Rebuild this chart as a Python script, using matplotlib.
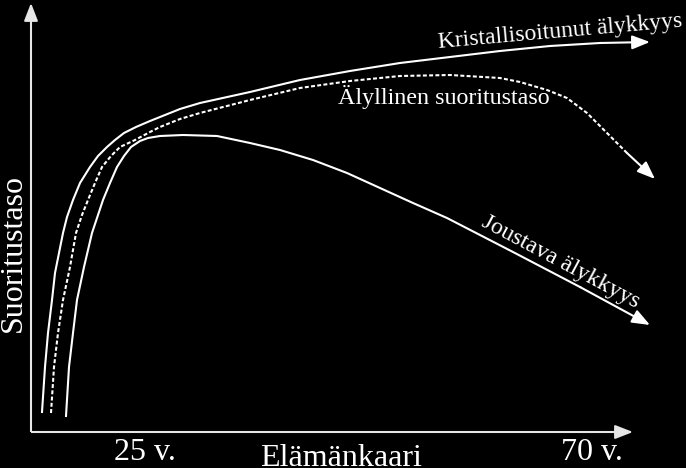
import matplotlib
matplotlib.use("Agg")
import matplotlib.pyplot as plt

# Data (pixel coordinates of the reference)
cryst_x = [42, 45, 48, 52, 55, 58, 63, 67, 73, 80, 90, 98, 107, 115, 124, 136, 150, 160, 180, 200, 250, 300, 350, 400, 450, 500, 550, 600, 650]
cryst_y = [412, 367, 333, 300, 273, 258, 233, 217, 200, 183, 167, 156, 147, 140, 133, 127, 121, 117, 109, 103, 92, 80, 71, 63, 57, 51, 46, 43, 42]

perf_x = [51, 54, 58, 63, 70, 76, 82, 88, 95, 102, 111, 120, 135, 150, 160, 180, 200, 250, 300, 350, 400, 450, 500, 520, 547, 567, 587, 607, 627, 655]
perf_y = [413, 367, 333, 300, 267, 233, 215, 200, 183, 167, 156, 147, 140, 132, 127, 119, 113, 100, 88, 81, 76, 75, 78, 82, 90, 98, 113, 133, 153, 179]

fluid_x = [66, 69, 73, 77, 84, 92, 103, 110, 117, 124, 131, 140, 148, 160, 183, 217, 250, 280, 313, 347, 380, 413, 447, 480, 513, 580, 650]
fluid_y = [416, 367, 333, 300, 267, 233, 200, 183, 167, 156, 147, 141, 138, 136, 135, 136, 143, 150, 160, 173, 188, 203, 218, 235, 252, 287, 325]

axis_origin = (31, 432)
axis_x_end = 633
axis_y_end = 3

x_tick_labels = ["25 v.", "70 v."]
x_tick_pos = [145, 592]

plt.rcParams['font.family'] = ['Liberation Serif', 'DejaVu Serif']

fig = plt.figure(figsize=(6.86, 4.68), dpi=100, facecolor='black')
ax = fig.add_axes([0, 0, 1, 1])
ax.set_facecolor('black')
ax.set_xlim(0, 686)
ax.set_ylim(468, 0)
ax.axis('off')

lw = 1.5
c = 'white'
axc = '#e6e6e6'
head = '-|>,head_length=0.9,head_width=0.35'


def arrow_head(xs, ys, color=c):
    ax.annotate('', xy=(xs[-1], ys[-1]), xytext=(xs[-2], ys[-2]),
                arrowprops=dict(arrowstyle=head, color=color, lw=lw,
                                shrinkA=0, shrinkB=0, mutation_scale=12))


# axes lines
ax.plot([axis_origin[0], axis_x_end - 8], [axis_origin[1], axis_origin[1]],
        color=axc, lw=1.5, solid_capstyle='butt')
ax.plot([axis_origin[0], axis_origin[0]], [axis_origin[1], axis_y_end + 8],
        color=axc, lw=1.5, solid_capstyle='butt')
arrow_head([axis_x_end - 10, axis_x_end], [axis_origin[1], axis_origin[1]], axc)
arrow_head([axis_origin[0], axis_origin[0]], [axis_y_end + 10, axis_y_end], axc)

# curves
ax.plot(cryst_x[:-1], cryst_y[:-1], color=c, lw=lw, solid_joinstyle='round')
arrow_head(cryst_x, cryst_y)
ax.plot(perf_x[:-1], perf_y[:-1], color=c, lw=lw, ls=(0, (1.9, 1.1)))
arrow_head(perf_x, perf_y)
ax.plot(fluid_x[:-1], fluid_y[:-1], color=c, lw=lw, solid_joinstyle='round')
arrow_head(fluid_x, fluid_y)

# texts
ax.text(13, 253, "Suoritustaso", rotation=90, color=c, fontsize=23, ha='center', va='center')
ax.text(341, 459, "Elämänkaari", color=c, fontsize=23, ha='center', va='center')
for lbl, xp in zip(x_tick_labels, x_tick_pos):
    ax.text(xp, 452, lbl, color=c, fontsize=23, ha='center', va='center')
ax.text(560, 32, "Kristallisoitunut älykkyys", color=c, fontsize=17, ha='center', va='center',
        rotation=5, rotation_mode='anchor')
ax.text(444, 97, "Älyllinen suoritustaso", color=c, fontsize=17.3, ha='center', va='center')
ax.text(561, 262, "Joustava älykkyys", color=c, fontsize=17.3, ha='center', va='center',
        rotation=-28, rotation_mode='anchor')

fig.savefig('out.png', dpi=100, facecolor='black')
